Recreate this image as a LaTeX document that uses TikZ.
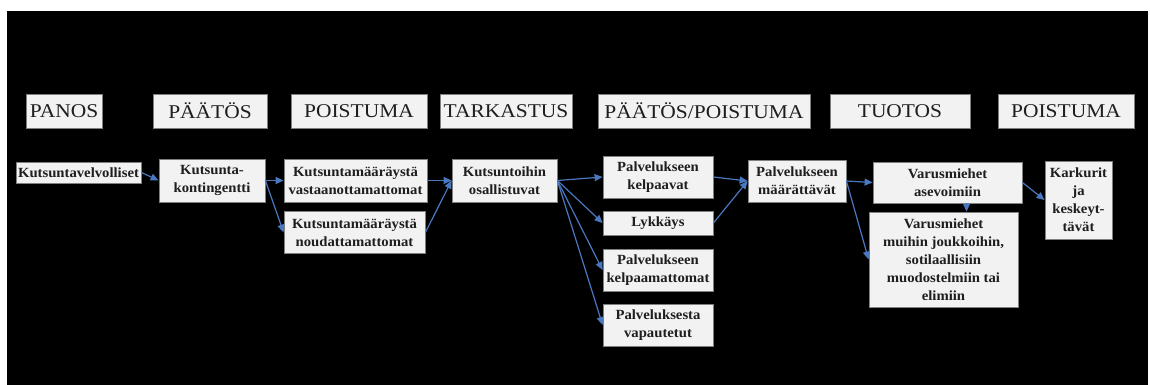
\documentclass[tikz,border=0pt]{standalone}
\usepackage{fontspec}
\setmainfont{Liberation Serif}
\newfontfamily\headfont[FakeStretch=1.1]{Liberation Serif}
\newfontfamily\cellfont[FakeStretch=1.05]{Liberation Serif}
\usetikzlibrary{arrows.meta}
\definecolor{boxfill}{HTML}{F2F2F2}
\definecolor{boxline}{HTML}{7F7F7F}
\definecolor{flow}{HTML}{4A78C0}
\definecolor{ink}{HTML}{1E1E1E}

\begin{document}
\begin{tikzpicture}[x=1pt,y=-1pt,
  box/.style={draw=boxline, fill=boxfill, line width=0.8pt, inner sep=0pt,
              text=ink, align=center},
  head/.style={box, minimum height=34pt, font=\headfont\fontsize{19.5}{22}\selectfont},
  cell/.style={box, font=\cellfont\bfseries\fontsize{14}{18}\selectfont},
  flowarrow/.style={draw=flow, line width=1.2pt, -{Triangle[length=8pt,width=7pt]}}]

% canvas
\useasboundingbox (0,0) rectangle (1150,385);
\fill[white] (0,0) rectangle (1150,385);
\fill[black] (7,11) rectangle (1148,385);

% phase headings
\node[head, minimum width=76pt]  (hpanos)  at (64,111)   {PANOS};
\node[head, minimum width=114pt] (hpaatos) at (210,111)  {PÄÄTÖS};
\node[head, minimum width=136pt] (hpoist)  at (359,111)  {POISTUMA};
\node[head, minimum width=132pt] (htark)   at (506,111)  {TARKASTUS};
\node[head, minimum width=212pt] (hpp)     at (704,111)  {PÄÄTÖS/POISTUMA};
\node[head, minimum width=140pt] (htuotos) at (900,111)  {TUOTOS};
\node[head, minimum width=136pt] (hpoistb) at (1066,111) {POISTUMA};

% flow steps
\node[cell, minimum width=125pt, minimum height=21pt] (velv)  at (78.5,172.5) {Kutsuntavelvolliset};
\node[cell, minimum width=106pt, minimum height=43pt] (kont)  at (212,180.5)  {Kutsunta-\\kontingentti};
\node[cell, minimum width=143pt, minimum height=43pt] (vast)  at (355.5,180.5) {Kutsuntamääräystä\\vastaanottamattomat};
\node[cell, minimum width=141pt, minimum height=42pt] (noud)  at (354.5,232.5) {Kutsuntamääräystä\\noudattamattomat};
\node[cell, minimum width=105pt, minimum height=43pt] (osal)  at (504.5,180.5) {Kutsuntoihin\\osallistuvat};
\node[cell, minimum width=110pt, minimum height=42pt] (kelp)  at (658,177)    {Palvelukseen\\kelpaavat};
\node[cell, minimum width=110pt, minimum height=24pt] (lykk)  at (658,223)    {Lykkäys};
\node[cell, minimum width=110pt, minimum height=42pt] (kelpm) at (658,270)    {Palvelukseen\\kelpaamattomat};
\node[cell, minimum width=110pt, minimum height=42pt] (vap)   at (658,325)    {Palveluksesta\\vapautetut};
\node[cell, minimum width=98pt,  minimum height=42pt] (maar)  at (797,181)    {Palvelukseen\\määrättävät};
\node[cell, minimum width=149pt, minimum height=41pt] (asev)  at (947.5,182.5) {Varusmiehet\\asevoimiin};
\node[cell, minimum width=149pt, minimum height=95pt] (muih)  at (943.5,259.5)
  {Varusmiehet\\muihin joukkoihin,\\sotilaallisiin\\muodostelmiin tai\\elimiin};
\node[cell, minimum width=67pt,  minimum height=78pt] (kark)  at (1078.5,200) {Karkurit\\ja\\keskeyt-\\tävät};

% connectors
\draw[flowarrow] (velv.east) -- (kont.west);
\draw[flowarrow] (kont.east) -- (vast.west);
\draw[flowarrow] (kont.east) -- (noud.west);
\draw[flowarrow] (vast.east) -- (osal.west);
\draw[flowarrow] (noud.east) -- (osal.west);
\draw[flowarrow] (osal.east) -- (kelp.west);
\draw[flowarrow] (osal.east) -- (lykk.west);
\draw[flowarrow] (osal.east) -- (kelpm.west);
\draw[flowarrow] (osal.east) -- (vap.west);
\draw[flowarrow] (kelp.east) -- (maar.west);
\draw[flowarrow] (lykk.east) -- (maar.west);
\draw[flowarrow] (maar.east) -- (asev.west);
\draw[flowarrow] (maar.east) -- (muih.west);
\draw[flowarrow] (asev.east) -- (kark.west);
\draw[flowarrow] ([xshift=19pt]asev.south) -- ([xshift=23pt]muih.north);

\end{tikzpicture}
\end{document}
